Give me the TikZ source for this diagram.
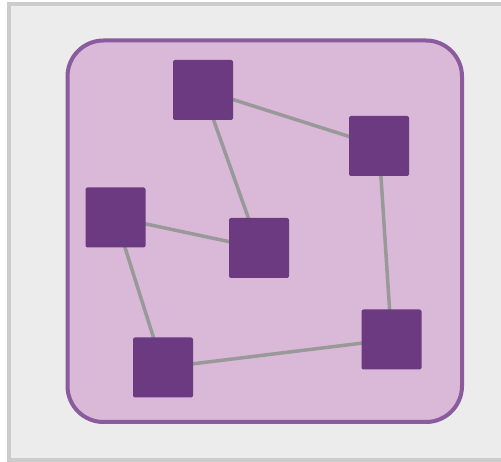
\documentclass[tikz,border=0pt]{standalone}
\definecolor{pagebg}{HTML}{ECECEC}
\definecolor{pageframe}{HTML}{CCCCCC}
\definecolor{panelfill}{HTML}{D9B8D8}
\definecolor{panelline}{HTML}{8A5C9E}
\definecolor{nodefill}{HTML}{6B3A80}
\definecolor{linkgray}{HTML}{999999}
\begin{document}
\begin{tikzpicture}[x=1pt,y=-1pt,
  sq/.style={fill=nodefill,draw=none,rounded corners=2pt,minimum size=60pt,inner sep=0pt},
  link/.style={draw=linkgray,line width=3.5pt}]
\useasboundingbox (0,0) rectangle (501,462);
\clip (0,0) rectangle (501,462);
% outer page frame (its right side runs off the page)
\draw[pageframe,fill=pagebg,line width=4pt] (9,4) rectangle (530,460);
% inner rounded panel
\draw[panelline,fill=panelfill,line width=4pt,rounded corners=36pt] (67.5,40.5) rectangle (462,422);
% node positions (drawn after the links so they sit on top)
\coordinate (a) at (203,90);
\coordinate (b) at (379,146);
\coordinate (c) at (259,248);
\coordinate (d) at (115.5,217.5);
\coordinate (e) at (163,367.5);
\coordinate (f) at (391.5,339.5);
% links
\path[link] (a) -- (b);
\path[link] (a) -- (c);
\path[link] (d) -- (c);
\path[link] (d) -- (e);
\path[link] (e) -- (f);
\path[link] (b) -- (f);
% nodes
\node[sq] (na) at (a) {};
\node[sq] (nb) at (b) {};
\node[sq] (nc) at (c) {};
\node[sq] (nd) at (d) {};
\node[sq] (ne) at (e) {};
\node[sq] (nf) at (f) {};
\end{tikzpicture}
\end{document}
